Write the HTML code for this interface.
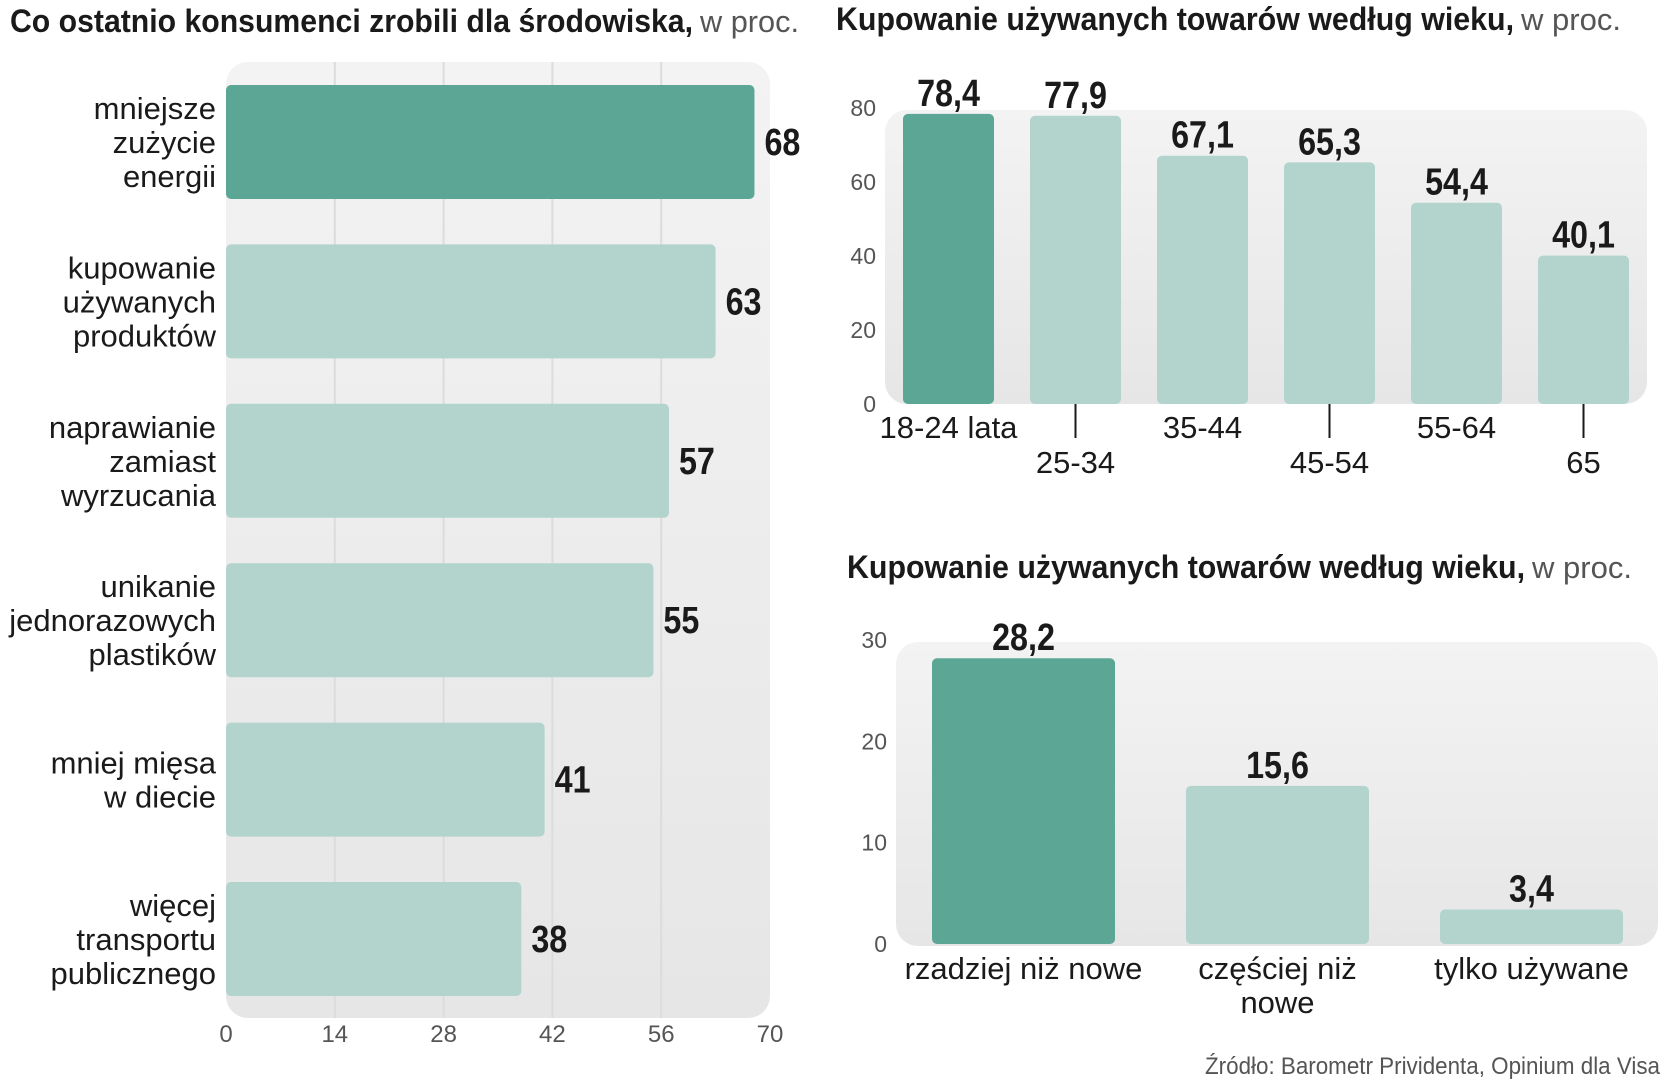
<!DOCTYPE html>
<html><head><meta charset="utf-8"><style>
html,body{margin:0;padding:0;background:#fff;width:1666px;height:1080px;overflow:hidden}
svg{display:block}
.t{font-family:"Liberation Sans Narrow","Liberation Sans",sans-serif;font-weight:bold;fill:#1a1a1a}
.r{font-family:"Liberation Sans",sans-serif;fill:#1a1a1a}
.tl{font-family:"Liberation Sans Narrow","Liberation Sans",sans-serif;fill:#555}
</style></head><body>
<svg id="s" width="1666" height="1080" xmlns="http://www.w3.org/2000/svg">
<defs>
<linearGradient id="pg" x1="0" y1="0" x2="0" y2="1"><stop offset="0" stop-color="#f3f3f3"/><stop offset="1" stop-color="#e6e6e6"/></linearGradient>
</defs>
<text class="t" x="10" y="32" font-size="32" textLength="683" lengthAdjust="spacingAndGlyphs">Co ostatnio konsumenci zrobili dla środowiska,</text>
<text class="tl" x="700" y="32" font-size="31" fill="#444" textLength="99" lengthAdjust="spacingAndGlyphs">w proc.</text>
<text class="t" x="836" y="30" font-size="32" textLength="678" lengthAdjust="spacingAndGlyphs">Kupowanie używanych towarów według wieku,</text>
<text class="tl" x="1521" y="30" font-size="31" fill="#444" textLength="100" lengthAdjust="spacingAndGlyphs">w proc.</text>
<text class="t" x="847" y="578" font-size="32" textLength="678" lengthAdjust="spacingAndGlyphs">Kupowanie używanych towarów według wieku,</text>
<text class="tl" x="1532" y="578" font-size="31" fill="#444" textLength="100" lengthAdjust="spacingAndGlyphs">w proc.</text>
<text class="tl" x="1660" y="1074" font-size="24" text-anchor="end" textLength="455" lengthAdjust="spacingAndGlyphs">Źródło: Barometr Prividenta, Opinium dla Visa</text>
</svg>
<script>
const leftCats=[["mniejsze","zużycie","energii"],["kupowanie","używanych","produktów"],["naprawianie","zamiast","wyrzucania"],["unikanie","jednorazowych","plastików"],["mniej mięsa","w diecie"],["więcej","transportu","publicznego"]];
const leftVals=[68,63,57,55,41,38];
const leftTicks=[0,14,28,42,56,70];
const ageCats=["18-24 lata","25-34","35-44","45-54","55-64","65"];
const ageVals=[78.4,77.9,67.1,65.3,54.4,40.1];
const ageTicks=[0,20,40,60,80];
const freqCats=[["rzadziej niż nowe"],["częściej niż","nowe"],["tylko używane"]];
const freqVals=[28.2,15.6,3.4];
const freqTicks=[0,10,20,30];
const fmt=v=>String(v).replace('.',',');

const S=document.getElementById('s');const NS='http://www.w3.org/2000/svg';
function el(tag,attrs,text){const e=document.createElementNS(NS,tag);for(const k in attrs)e.setAttribute(k,attrs[k]);if(text!=null)e.textContent=text;S.appendChild(e);return e;}
function valText(x,y,anchor,txt){return el('text',{x:0,y:0,transform:'translate('+x+','+y+') scale(0.85,1)','font-size':38,'text-anchor':anchor,class:'t'},txt);}
const DARK='#5ca696',LIGHT='#b2d4cc';

// Left chart
const lx0=226,lx1=770,lx=v=>lx0+(v-0)/(70-0)*(lx1-lx0);
let p=el('rect',{x:lx0,y:62,width:lx1-lx0,height:956,rx:22,fill:'url(#pg)'});


leftTicks.forEach(t=>{
 if(t>0&&t<70){const g=el('line',{x1:lx(t),x2:lx(t),y1:62,y2:1018,stroke:'#dcdcdc','stroke-width':2});
 
 }
 const tx=el('text',{x:lx(t),y:1042,'font-size':24,'text-anchor':'middle',class:'tl'},String(t));
 
 
});
leftVals.forEach((v,i)=>{
 const y=85+i*159.4,h=114;
 const b=el('rect',{x:lx(0),y:y,width:lx(v)-lx(0),height:h,rx:5,fill:i==0?DARK:LIGHT});
 
 
 const vl=valText(lx(v)+10,y+h/2+13,'start',fmt(v));
 
 
 const lines=leftCats[i],lh=34,st=y+h/2-(lines.length-1)*lh/2+11;
 lines.forEach((ln,j)=>{const c=el('text',{x:216,y:st+j*lh,'font-size':31,'text-anchor':'end',class:'r'},ln);
 
 });
});

// Top right chart
const ty0=404,ty1=108,ty=v=>ty0-(v/80)*(ty0-ty1);
p=el('rect',{x:885,y:110,width:762,height:294,rx:22,fill:'url(#pg)'});


ageTicks.forEach(t=>{const tx=el('text',{x:876,y:ty(t)+8,'font-size':23,'text-anchor':'end',class:'tl'},String(t));
 
 });
ageVals.forEach((v,i)=>{
 const x=903+i*127,w=91;
 const b=el('rect',{x:x,y:ty(v),width:w,height:ty0-ty(v),rx:5,fill:i==0?DARK:LIGHT});
 
 
 const vl=valText(x+w/2,ty(v)-8,'middle',fmt(v));
 
 
 const low=i%2==1;
 if(low){const tk=el('line',{x1:x+w/2,x2:x+w/2,y1:404,y2:438,stroke:'#1a1a1a','stroke-width':2});
 
 }
 const c=el('text',{x:x+w/2,y:low?473:438,'font-size':31,'text-anchor':'middle',class:'r'},ageCats[i]);
 
 
});

// Bottom right chart
const by0=944,by1=640,by=v=>by0-(v/30)*(by0-by1);
p=el('rect',{x:896,y:642,width:762,height:304,rx:22,fill:'url(#pg)'});


freqTicks.forEach(t=>{const tx=el('text',{x:887,y:by(t)+8,'font-size':23,'text-anchor':'end',class:'tl'},String(t));
 
 });
freqVals.forEach((v,i)=>{
 const x=932+i*254,w=183;
 const b=el('rect',{x:x,y:by(v),width:w,height:by0-by(v),rx:5,fill:i==0?DARK:LIGHT});
 
 
 const vl=valText(x+w/2,by(v)-8,'middle',fmt(v));
 
 
 freqCats[i].forEach((ln,j)=>{const c=el('text',{x:x+w/2,y:979+j*34,'font-size':31,'text-anchor':'middle',class:'r'},ln);
 
 });
});
</script>
</body></html>
